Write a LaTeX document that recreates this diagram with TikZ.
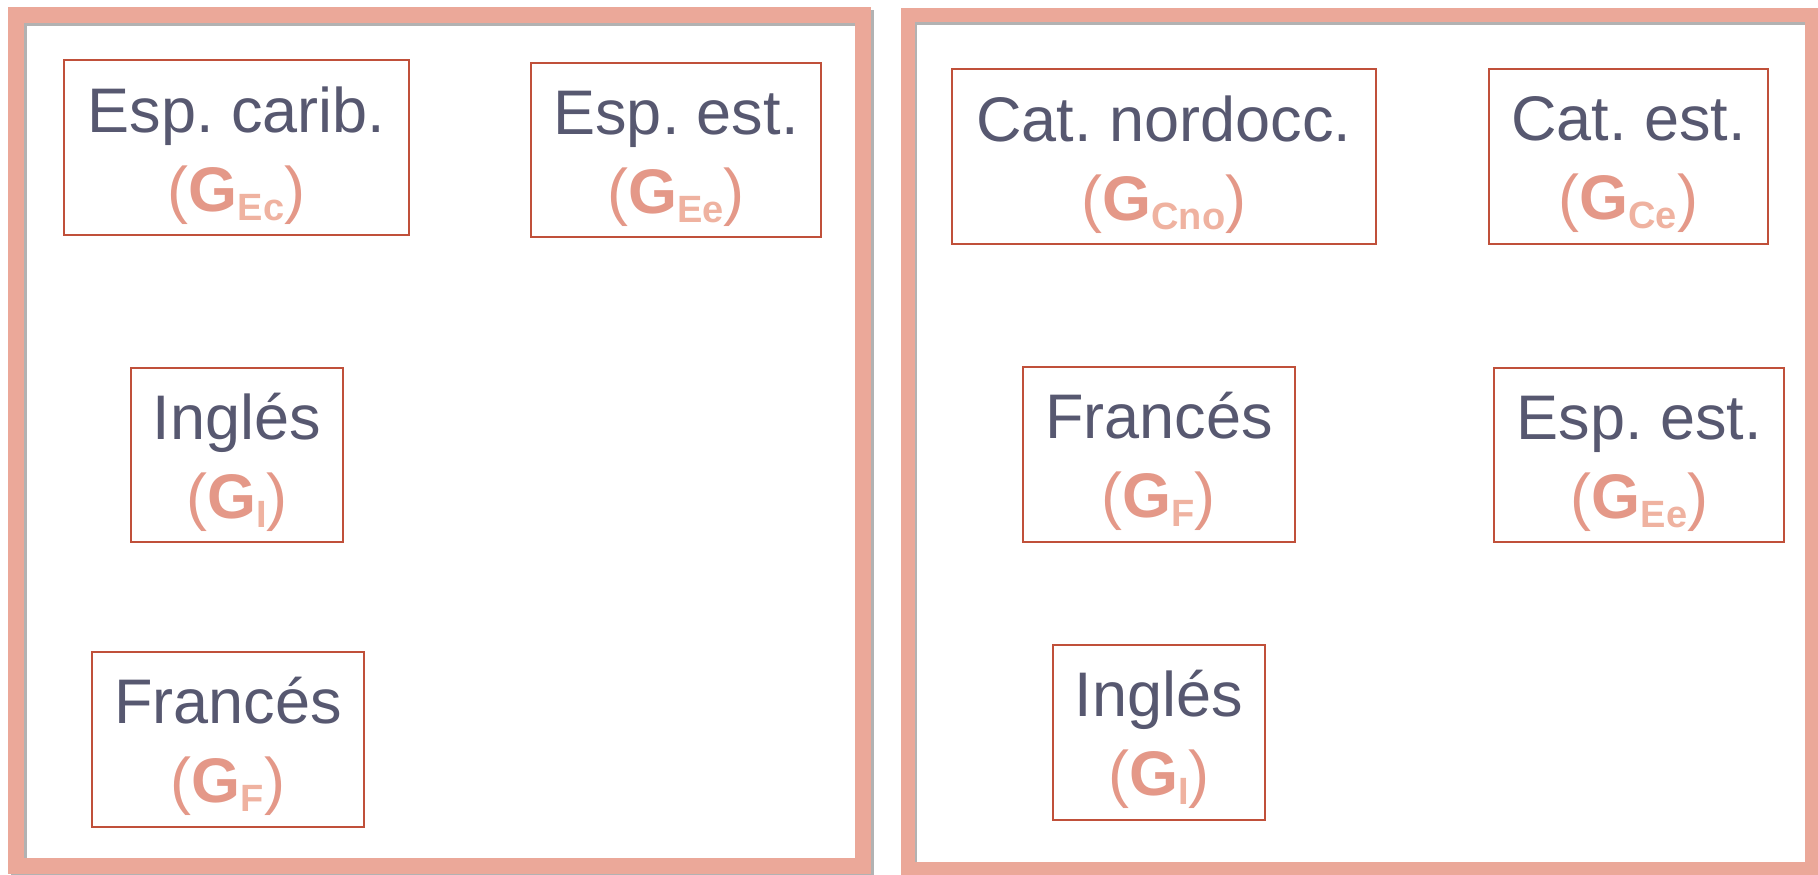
\documentclass[tikz,border=0pt]{standalone}
\usepackage{fontspec}
\setmainfont{Liberation Sans}
\frenchspacing
\definecolor{framecol}{RGB}{235,168,153}
\definecolor{boxcol}{RGB}{192,80,58}
\definecolor{txtcol}{RGB}{87,88,112}
\definecolor{gcol}{RGB}{228,152,136}
\definecolor{subcol}{RGB}{239,178,160}
\newcommand{\gsub}[1]{{\mdseries(}G\raisebox{-4.5pt}{\fontsize{19pt}{19pt}\selectfont\color{subcol}#1}{\mdseries)}}
\tikzset{
  frame/.style={draw=framecol, line width=8pt},
  frameshadow/.style={draw=black!55, line width=8pt, opacity=0.55},
  gbox/.style={draw=boxcol, line width=1pt, inner sep=0pt, fill=white},
  lineone/.style={text=txtcol, font=\fontsize{31.5pt}{31.5pt}\selectfont, anchor=base, inner sep=0pt},
  linetwo/.style={text=gcol, font=\fontsize{31.5pt}{31.5pt}\selectfont\bfseries, anchor=base, inner sep=0pt}
}
\newcommand{\gbox}[7]{%
  \node[gbox, minimum width=#4*0.5pt, minimum height=#5*0.5pt] (#1) at (#2,#3) {};
  \node[lineone] (#1a) at ([yshift=-36.5pt]#1.north) {#6};
  \node[linetwo] (#1b) at ([yshift=-76pt]#1.north) {\gsub{#7}};
}
\begin{document}
\begin{tikzpicture}[x=0.5pt,y=-0.5pt]
\useasboundingbox (0,0) rectangle (1818,874);
\clip (0,0) rectangle (1818,874);
\fill[white] (0,0) rectangle (1818,874);
% frames
\draw[frameshadow, shift={(2.5,2.5)}] (16,15) rectangle (863,866);
\draw[frame] (16,15) rectangle (863,866);
\draw[frameshadow, shift={(2.5,2.5)}, line width=7pt] (907.5,15) rectangle (1811.5,869);
\draw[frame, line width=7pt] (907.5,15) rectangle (1811.5,869);
% left panel
\gbox{b1}{236.5}{147.5}{345}{175}{Esp. carib.}{Ec}
\gbox{b2}{676}{149.5}{290}{174}{Esp. est.}{Ee}
\gbox{b3}{237}{454.5}{212}{174}{Inglés}{I}
\gbox{b4}{228}{739}{272}{175}{Francés}{F}
% right panel
\gbox{b5}{1163.8}{156.5}{424}{175}{Cat. nordocc.}{Cno}
\gbox{b6}{1628.3}{156}{279}{175}{Cat. est.}{Ce}
\gbox{b7}{1158.8}{454}{272}{175}{Francés}{F}
\gbox{b8}{1639.4}{454.5}{290}{174}{Esp. est.}{Ee}
\gbox{b9}{1158.8}{732}{212}{175}{Inglés}{I}
\end{tikzpicture}
\end{document}
